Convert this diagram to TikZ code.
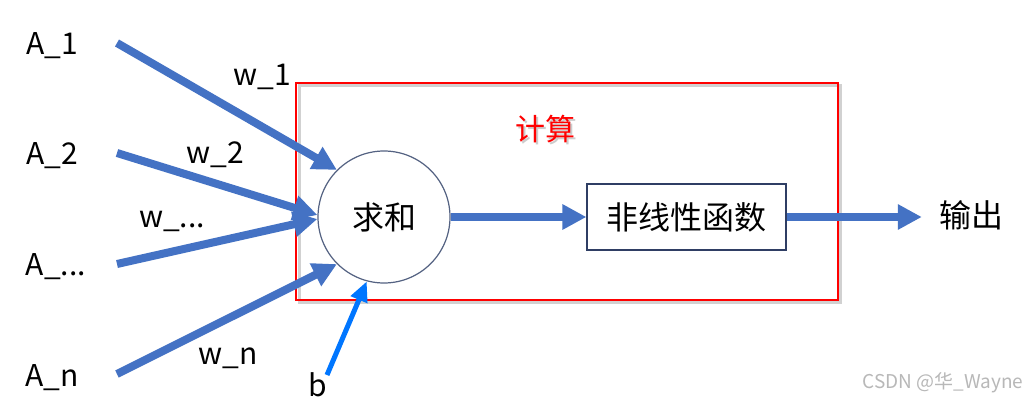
\documentclass[tikz,border=0pt]{standalone}
\usepackage{fontspec}
\setmainfont{Noto Sans CJK SC}
\usetikzlibrary{arrows.meta}
\definecolor{wblue}{RGB}{68,114,196}
\definecolor{bblue}{RGB}{0,118,255}
\definecolor{cline}{RGB}{84,98,130}
\definecolor{boxline}{RGB}{47,62,100}
\begin{document}
\begin{tikzpicture}[x=1pt,y=1pt,
  lbl/.style={font=\fontsize{30}{34}\selectfont, inner sep=0pt},
  cjk/.style={font=\fontsize{32}{36}\selectfont, inner sep=0pt},
  wire/.style={wblue, line width=8pt, -{Triangle[length=24pt,width=24pt]}},
  bwire/.style={bblue, line width=5pt, -{Triangle[length=20pt,width=17pt]}}]
\useasboundingbox (0,0) rectangle (1026,400);
\fill[white] (0,0) rectangle (1026,400);
% computation frame with soft shadow
\draw[black!18, line width=2.5pt] (299.5,97.5) rectangle (840.5,314.5);
\node[draw=red, line width=2pt, minimum width=542pt, minimum height=217pt, inner sep=0pt] (frame) at (567,208.5) {};
\node[font=\fontsize{30}{34}\selectfont, text=black!20, inner sep=0pt] at (547,269) {计算};
\node[font=\fontsize{30}{34}\selectfont, text=red, inner sep=0pt] (calc) at (545,271) {计算};
% nodes
\node[circle, draw=cline, line width=1.2pt, fill=white, minimum size=132pt, inner sep=0pt, cjk] (sum) at (384,183) {求和};
\node[draw=boxline, line width=1.2pt, minimum width=199pt, minimum height=66pt, inner sep=0pt, cjk] (nl) at (686.5,183) {非线性函数};
\node[cjk] (out) at (971,185) {输出};
% inputs
\node[lbl] (a1) at (52,354) {A\_1};
\node[lbl] (a2) at (52,244) {A\_2};
\node[lbl] (a3) at (56,133) {A\_...};
\node[lbl] (an) at (52,22) {A\_n};
\coordinate (s1) at (117,357);
\coordinate (s2) at (117,247);
\coordinate (s3) at (117,136);
\coordinate (s4) at (117,26);
\coordinate (bs) at (327,25);
% weights
\node[lbl] (w1) at (262,323) {w\_1};
\node[lbl] (w2) at (215,245) {w\_2};
\node[lbl] (w3) at (172,179) {w\_...};
\node[lbl] (wn) at (228,42) {w\_n};
\node[lbl] (b) at (318,15) {b};
% connectors
\draw[wire] (s1) -- (sum.135);
\draw[wire] (s2) -- ([yshift=2pt]sum.west);
\draw[wire] (s3) -- ([yshift=-2pt]sum.west);
\draw[wire] (s4) -- (sum.225);
\draw[bwire] (bs) -- (sum.255);
\draw[wire] (sum.east) -- (nl.west);
\draw[wire, shorten >=17pt] (nl.east) -- (nl.east -| out.west);
% watermark
\node[font=\fontsize{19}{22}\selectfont, text=black!28, inner sep=0pt] (wm) at (943,17) {CSDN @华\_Wayne};
\end{tikzpicture}
\end{document}
